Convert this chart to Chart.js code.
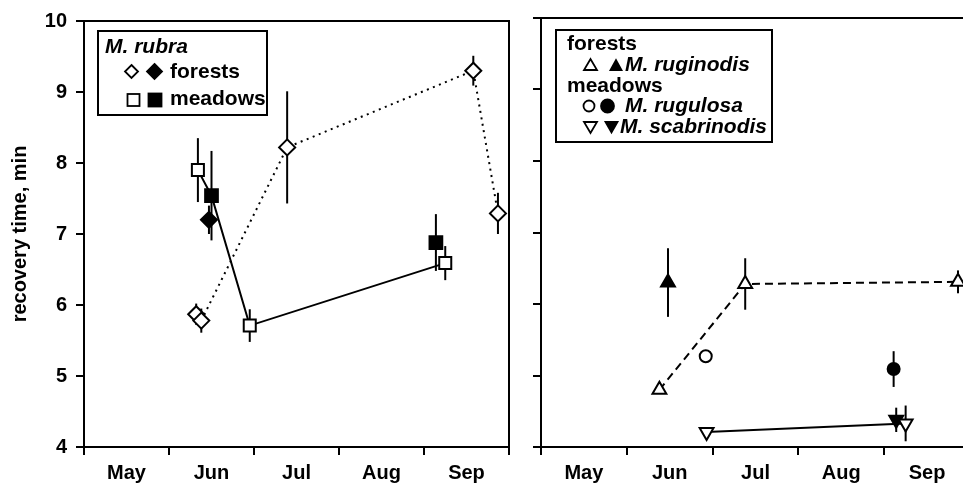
<!DOCTYPE html>
<html>
<head>
<meta charset="utf-8">
<script src="https://cdn.jsdelivr.net/npm/chart.js@4.4.1/dist/chart.umd.min.js"></script>
<style>
  html, body { margin: 0; padding: 0; background: #fff; overflow: hidden; }
  #page { position: relative; width: 963px; height: 486px; overflow: hidden; }
  canvas { position: absolute; top: 0; }
  #left { left: 0; }
  #right { left: 520px; }
  #keys { position: absolute; left: 0; top: 0; }
  .box { position: absolute; border: 2px solid #000; box-sizing: border-box; background: #fff; }
  .row { position: absolute; white-space: nowrap; font: bold 21px "Liberation Sans", Arial, sans-serif; line-height: 21px; color: #000; }
  .row i { font-style: italic; }
</style>
</head>
<body>
<div id="page">
  <canvas id="left" width="520" height="486"></canvas>
  <canvas id="right" width="460" height="486"></canvas>

  <div class="box" style="left:97px;top:30px;width:171px;height:86px"></div>
  <div class="box" style="left:555px;top:29px;width:218px;height:114px"></div>

  <svg id="keys" width="963" height="160" xmlns="http://www.w3.org/2000/svg">
    <g stroke="#000" stroke-width="1.8">
      <polygon points="131.5,65 138,71.5 131.5,78 125,71.5" fill="#fff"/>
      <polygon points="154.5,64 162,71.5 154.5,79 147,71.5" fill="#000"/>
      <rect x="127.5" y="94" width="12" height="12" fill="#fff"/>
      <rect x="148.5" y="93.5" width="13" height="13" fill="#000"/>
      <polygon points="584,70 597,70 590.5,59" fill="#fff"/>
      <polygon points="610.5,70 621.5,70 616,60" fill="#000"/>
      <circle cx="589" cy="106" r="5.5" fill="#fff"/>
      <circle cx="607.5" cy="106" r="6.5" fill="#000"/>
      <polygon points="584,122 597,122 590.5,133" fill="#fff"/>
      <polygon points="605.5,122 617.5,122 611.5,132.5" fill="#000"/>
    </g>
  </svg>

  <div class="row" style="left:105px;top:35px"><i>M. rubra</i></div>
  <div class="row" style="left:170px;top:60px">forests</div>
  <div class="row" style="left:170px;top:87px">meadows</div>

  <div class="row" style="left:567px;top:32px">forests</div>
  <div class="row" style="left:625px;top:53px"><i>M. ruginodis</i></div>
  <div class="row" style="left:567px;top:74px">meadows</div>
  <div class="row" style="left:625px;top:94px"><i>M. rugulosa</i></div>
  <div class="row" style="left:620px;top:115px"><i>M. scabrinodis</i></div>
</div>
<script>
// x values are months: 5 = 1 May, 6 = 1 Jun, ... 10 = 1 Oct
const monthNames = ['May', 'Jun', 'Jul', 'Aug', 'Sep'];
const monthTicks = [5, 5.5, 6, 6.5, 7, 7.5, 8, 8.5, 9, 9.5, 10];

// left panel, M. rubra
const rubraForestOpenX = [6.32, 6.38, 7.39, 9.58, 9.87];
const rubraForestOpenY = [5.87, 5.78, 8.22, 9.30, 7.29];
const rubraForestOpenErr = [0.15, 0.17, 0.79, 0.21, 0.29];
const rubraForestFilledX = [6.47];
const rubraForestFilledY = [7.20];
const rubraForestFilledErr = [0.20];
const rubraMeadowOpenX = [6.34, 6.95, 9.25];
const rubraMeadowOpenY = [7.90, 5.71, 6.59];
const rubraMeadowOpenErr = [0.45, 0.23, 0.24];
const rubraMeadowFilledX = [6.50, 9.14];
const rubraMeadowFilledY = [7.54, 6.88];
const rubraMeadowFilledErr = [0.63, 0.40];
const rubraForestLineX = [6.38, 7.39, 9.58, 9.87];
const rubraForestLineY = [5.78, 8.22, 9.30, 7.29];
const rubraMeadowLineX = [6.34, 6.50, 6.95, 9.25];
const rubraMeadowLineY = [7.90, 7.54, 5.71, 6.59];

// right panel
const ruginodisOpenX = [6.38, 7.38, 9.86];
const ruginodisOpenY = [4.80, 6.28, 6.31];
const ruginodisOpenErr = [0.05, 0.36, 0.16];
const ruginodisFilledX = [6.48];
const ruginodisFilledY = [6.30];
const ruginodisFilledErr = [0.48];
const rugulosaOpenX = [6.92];
const rugulosaOpenY = [5.27];
const rugulosaOpenErr = [0.04];
const rugulosaFilledX = [9.11];
const rugulosaFilledY = [5.09];
const rugulosaFilledErr = [0.25];
const scabrinodisOpenX = [6.93, 9.25];
const scabrinodisOpenY = [4.21, 4.33];
const scabrinodisOpenErr = [0.03, 0.25];
const scabrinodisFilledX = [9.14];
const scabrinodisFilledY = [4.38];
const scabrinodisFilledErr = [0.17];

Chart.defaults.font.family = '"Liberation Sans", Arial, sans-serif';
Chart.defaults.color = '#000';

const pts = (xs, ys) => xs.map((x, i) => ({x: x, y: ys[i]}));

function marks(xs, ys, errs, style, radius, fill, rotation) {
  return {
    data: pts(xs, ys),
    errors: errs,
    showLine: false,
    pointStyle: style,
    pointRadius: radius,
    pointRotation: rotation || 0,
    pointBackgroundColor: fill ? '#000' : '#fff',
    pointBorderColor: '#000',
    pointBorderWidth: 2,
    order: 1,
    clip: false
  };
}

function line(xs, ys, dash) {
  return {
    data: pts(xs, ys),
    showLine: true,
    borderColor: '#000',
    borderWidth: 2,
    borderDash: dash,
    pointRadius: 0,
    order: 2,
    clip: false
  };
}

const errorBars = {
  id: 'errorBars',
  beforeDatasetsDraw(chart) {
    const {ctx, scales: {x, y}} = chart;
    ctx.save();
    ctx.strokeStyle = '#000';
    ctx.lineWidth = 2;
    chart.data.datasets.forEach(ds => {
      if (!ds.errors) return;
      ds.data.forEach((p, i) => {
        const px = x.getPixelForValue(p.x);
        ctx.beginPath();
        ctx.moveTo(px, y.getPixelForValue(p.y - ds.errors[i]));
        ctx.lineTo(px, y.getPixelForValue(p.y + ds.errors[i]));
        ctx.stroke();
      });
    });
    ctx.restore();
  }
};

const frame = {
  id: 'frame',
  afterDraw(chart, args, opts) {
    const {ctx, chartArea: a} = chart;
    ctx.save();
    ctx.strokeStyle = '#000';
    ctx.lineWidth = 2;
    ctx.beginPath();
    ctx.moveTo(a.left, a.top);
    ctx.lineTo(a.right, a.top);
    if (opts.right) ctx.lineTo(a.right, a.bottom);
    ctx.stroke();
    ctx.restore();
  }
};

function scales(showY) {
  return {
    x: {
      type: 'linear',
      min: 5,
      max: 10,
      afterBuildTicks: s => { s.ticks = monthTicks.map(v => ({value: v})); },
      afterFit: s => { s.height = 39; },
      ticks: {
        autoSkip: false,
        maxRotation: 0,
        padding: 6,
        font: {size: 20, weight: 'bold'},
        callback: v => Number.isInteger(v) ? '' : monthNames[Math.round(v - 5.5)]
      },
      grid: {
        drawOnChartArea: false,
        tickLength: 8,
        lineWidth: 2,
        color: c => (c.tick && Number.isInteger(c.tick.value)) ? '#000' : 'rgba(0,0,0,0)'
      },
      border: {color: '#000', width: 2}
    },
    y: {
      min: 4,
      max: 10,
      afterFit: s => { s.width = showY ? 84 : 21; },
      ticks: {stepSize: 1, padding: 9, display: showY, font: {size: 20, weight: 'bold'}},
      grid: {drawOnChartArea: false, tickLength: 8, lineWidth: 2, color: '#000'},
      border: {color: '#000', width: 2},
      title: {
        display: showY,
        text: 'recovery time, min',
        font: {size: 20, weight: 'bold'},
        padding: {top: 8, bottom: 0}
      }
    }
  };
}

function options(showY, padRight, boxRight) {
  return {
    responsive: false,
    animation: false,
    events: [],
    layout: {padding: {top: 18, right: padRight, bottom: 0, left: 0}},
    plugins: {legend: {display: false}, tooltip: {enabled: false}, frame: {right: boxRight}},
    scales: scales(showY)
  };
}

new Chart(document.getElementById('left'), {
  type: 'scatter',
  data: {
    datasets: [
      marks(rubraForestOpenX, rubraForestOpenY, rubraForestOpenErr, 'rectRot', 8, false),
      marks(rubraForestFilledX, rubraForestFilledY, rubraForestFilledErr, 'rectRot', 8, true),
      marks(rubraMeadowOpenX, rubraMeadowOpenY, rubraMeadowOpenErr, 'rect', 8.5, false),
      marks(rubraMeadowFilledX, rubraMeadowFilledY, rubraMeadowFilledErr, 'rect', 9, true),
      line(rubraForestLineX, rubraForestLineY, [2, 4.5]),
      line(rubraMeadowLineX, rubraMeadowLineY, [])
    ]
  },
  options: options(true, 7, true),
  plugins: [errorBars, frame]
});

new Chart(document.getElementById('right'), {
  type: 'scatter',
  data: {
    datasets: [
      marks(ruginodisOpenX, ruginodisOpenY, ruginodisOpenErr, 'triangle', 8, false),
      marks(ruginodisFilledX, ruginodisFilledY, ruginodisFilledErr, 'triangle', 8, true),
      marks(rugulosaOpenX, rugulosaOpenY, rugulosaOpenErr, 'circle', 6, false),
      marks(rugulosaFilledX, rugulosaFilledY, rugulosaFilledErr, 'circle', 6, true),
      marks(scabrinodisOpenX, scabrinodisOpenY, scabrinodisOpenErr, 'triangle', 8, false, 180),
      marks(scabrinodisFilledX, scabrinodisFilledY, scabrinodisFilledErr, 'triangle', 8, true, 180),
      line(ruginodisOpenX, ruginodisOpenY, [8, 5]),
      line(scabrinodisOpenX, scabrinodisOpenY, [])
    ]
  },
  options: options(false, 10, false),
  plugins: [errorBars, frame]
});
</script>
</body>
</html>
